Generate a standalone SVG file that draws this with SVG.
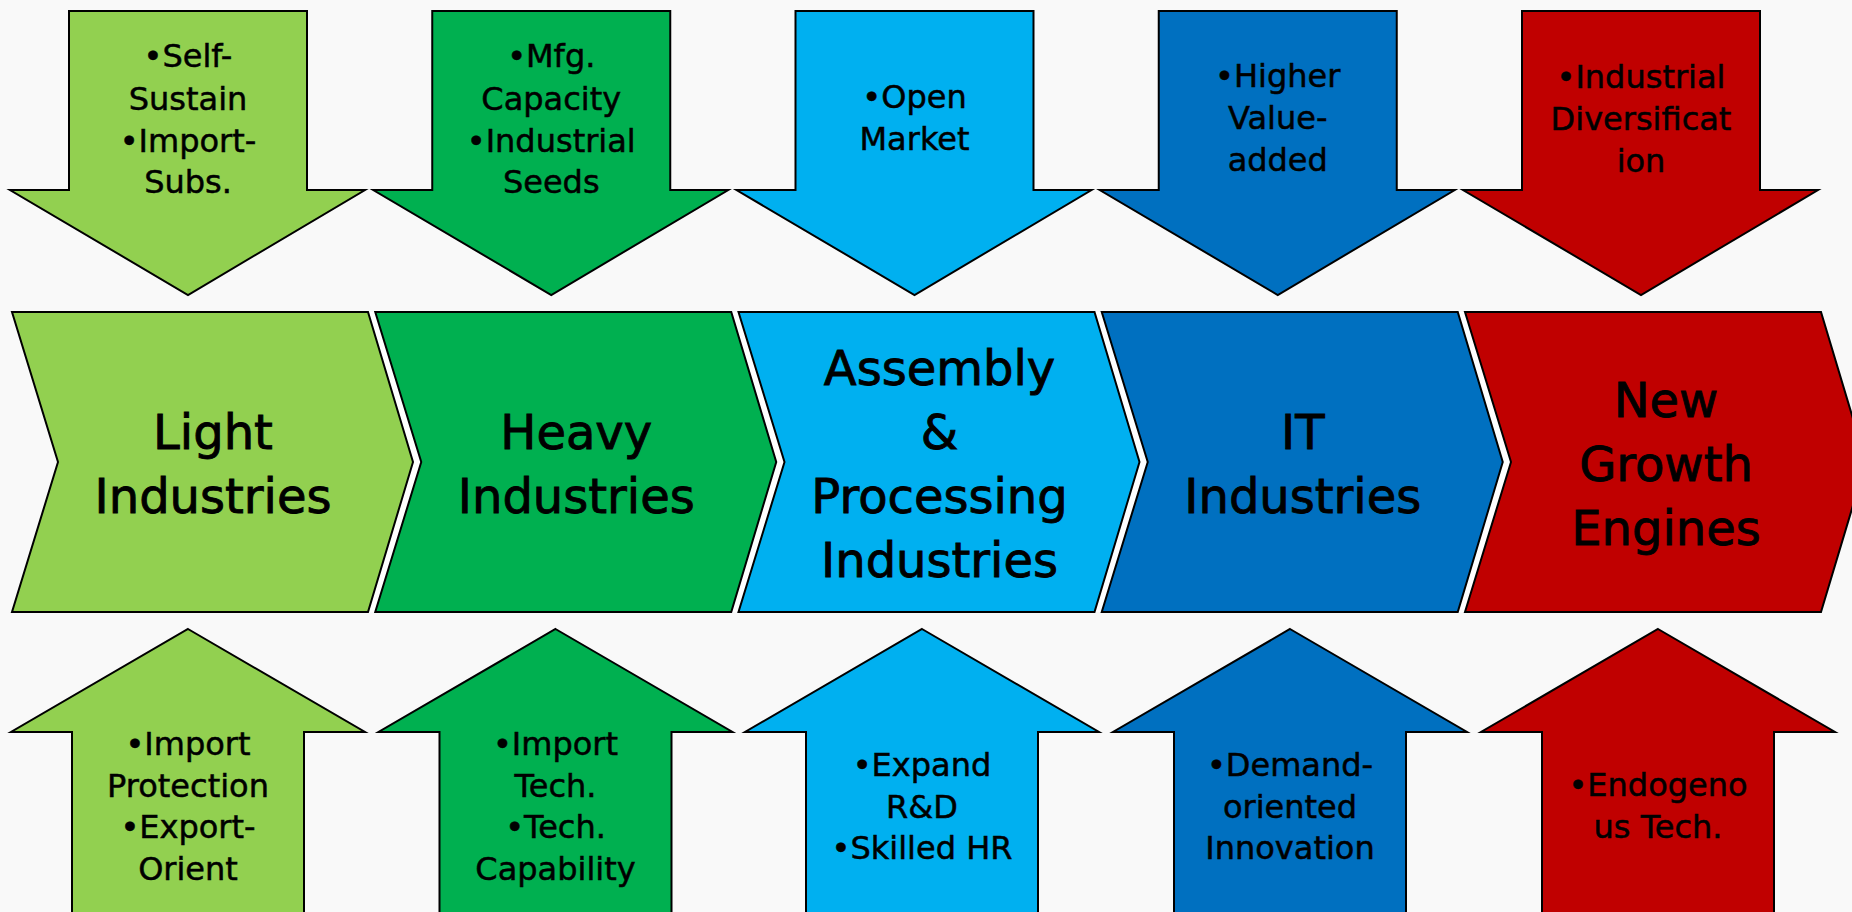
<svg xmlns="http://www.w3.org/2000/svg" xmlns:xlink="http://www.w3.org/1999/xlink" width="1852" height="912" viewBox="0 0 1852 912">
<style>
.bg{fill:#f9f9f9}
.shape{stroke:#000;stroke-width:2;stroke-linejoin:miter}
.c1{fill:#92D050}.c2{fill:#00B050}.c3{fill:#00B0F0}.c4{fill:#0070C0}.c5{fill:#C00000}
.gap{fill:#ffffff}
.sm{font-family:"DejaVu Sans","Verdana",sans-serif;font-size:32px;fill:#000;stroke:#000;stroke-width:0.5;text-anchor:middle}
.lg{font-family:"DejaVu Sans","Verdana",sans-serif;font-size:48px;fill:#000;stroke:#000;stroke-width:0.9;text-anchor:middle}
</style>
<defs>
<path id="chev" d="M0,0 H356 L401,150 L356,300 H0 L46,150 Z"/>
<path id="down" d="M-119,0 H119 V179 H177 L0,284 L-178,179 H-119 Z"/>
<path id="up" d="M0,0 L177,103 H116 V290 H-116 V103 H-177 Z"/>
<path id="gapshape" d="M356,312 L401,462 L356,612 H363 L409,462 L363,312 Z"/>
</defs>
<rect class="bg" x="0" y="0" width="1852" height="912"/>

<g id="connectors"></g>

<g id="gaps">
<use xlink:href="#gapshape" class="gap" transform="translate(12,0)"/>
<use xlink:href="#gapshape" class="gap" transform="translate(375.25,0)"/>
<use xlink:href="#gapshape" class="gap" transform="translate(738.5,0)"/>
<use xlink:href="#gapshape" class="gap" transform="translate(1101.75,0)"/>
</g>

<g id="chevron-light">
<use xlink:href="#chev" class="shape c1" transform="translate(12,312)"/>
<text class="lg" x="213"><tspan x="213" y="449">Light</tspan><tspan x="213" y="513">Industries</tspan></text>
</g>
<g id="chevron-heavy">
<use xlink:href="#chev" class="shape c2" transform="translate(375.25,312)"/>
<text class="lg"><tspan x="576.25" y="449">Heavy</tspan><tspan x="576.25" y="513">Industries</tspan></text>
</g>
<g id="chevron-assembly">
<use xlink:href="#chev" class="shape c3" transform="translate(738.5,312)"/>
<text class="lg"><tspan x="939.5" y="385">Assembly</tspan><tspan x="939.5" y="449">&amp;</tspan><tspan x="939.5" y="513">Processing</tspan><tspan x="939.5" y="577">Industries</tspan></text>
</g>
<g id="chevron-it">
<use xlink:href="#chev" class="shape c4" transform="translate(1101.75,312)"/>
<text class="lg"><tspan x="1302.75" y="449">IT</tspan><tspan x="1302.75" y="513">Industries</tspan></text>
</g>
<g id="chevron-new">
<use xlink:href="#chev" class="shape c5" transform="translate(1465,312)"/>
<text class="lg"><tspan x="1666" y="417">New</tspan><tspan x="1666" y="481">Growth</tspan><tspan x="1666" y="545">Engines</tspan></text>
</g>

<g id="down-1">
<use xlink:href="#down" class="shape c1" transform="translate(188,11)"/>
<text class="sm"><tspan x="188" y="67">•Self-</tspan><tspan x="188" y="110">Sustain</tspan><tspan x="188" y="152">•Import-</tspan><tspan x="188" y="193">Subs.</tspan></text>
</g>
<g id="down-2">
<use xlink:href="#down" class="shape c2" transform="translate(551.25,11)"/>
<text class="sm"><tspan x="551.25" y="67">•Mfg.</tspan><tspan x="551.25" y="110">Capacity</tspan><tspan x="551.25" y="152">•Industrial</tspan><tspan x="551.25" y="193">Seeds</tspan></text>
</g>
<g id="down-3">
<use xlink:href="#down" class="shape c3" transform="translate(914.5,11)"/>
<text class="sm"><tspan x="914.5" y="108">•Open</tspan><tspan x="914.5" y="150">Market</tspan></text>
</g>
<g id="down-4">
<use xlink:href="#down" class="shape c4" transform="translate(1277.75,11)"/>
<text class="sm"><tspan x="1277.75" y="87">•Higher</tspan><tspan x="1277.75" y="129">Value-</tspan><tspan x="1277.75" y="171">added</tspan></text>
</g>
<g id="down-5">
<use xlink:href="#down" class="shape c5" transform="translate(1641,11)"/>
<text class="sm"><tspan x="1641" y="88">•Industrial</tspan><tspan x="1641" y="130">Diversificat</tspan><tspan x="1641" y="172">ion</tspan></text>
</g>

<g id="up-1">
<use xlink:href="#up" class="shape c1" transform="translate(188,629)"/>
<text class="sm"><tspan x="188" y="755">•Import</tspan><tspan x="188" y="797">Protection</tspan><tspan x="188" y="838">•Export-</tspan><tspan x="188" y="880">Orient</tspan></text>
</g>
<g id="up-2">
<use xlink:href="#up" class="shape c2" transform="translate(555.5,629)"/>
<text class="sm"><tspan x="555.5" y="755">•Import</tspan><tspan x="555.5" y="797">Tech.</tspan><tspan x="555.5" y="838">•Tech.</tspan><tspan x="555.5" y="880">Capability</tspan></text>
</g>
<g id="up-3">
<use xlink:href="#up" class="shape c3" transform="translate(922,629)"/>
<text class="sm"><tspan x="922" y="776">•Expand</tspan><tspan x="922" y="818">R&amp;D</tspan><tspan x="922" y="859">•Skilled HR</tspan></text>
</g>
<g id="up-4">
<use xlink:href="#up" class="shape c4" transform="translate(1290,629)"/>
<text class="sm"><tspan x="1290" y="776">•Demand-</tspan><tspan x="1290" y="818">oriented</tspan><tspan x="1290" y="859">Innovation</tspan></text>
</g>
<g id="up-5">
<use xlink:href="#up" class="shape c5" transform="translate(1658,629)"/>
<text class="sm"><tspan x="1658" y="796">•Endogeno</tspan><tspan x="1658" y="838">us Tech.</tspan></text>
</g>
</svg>
